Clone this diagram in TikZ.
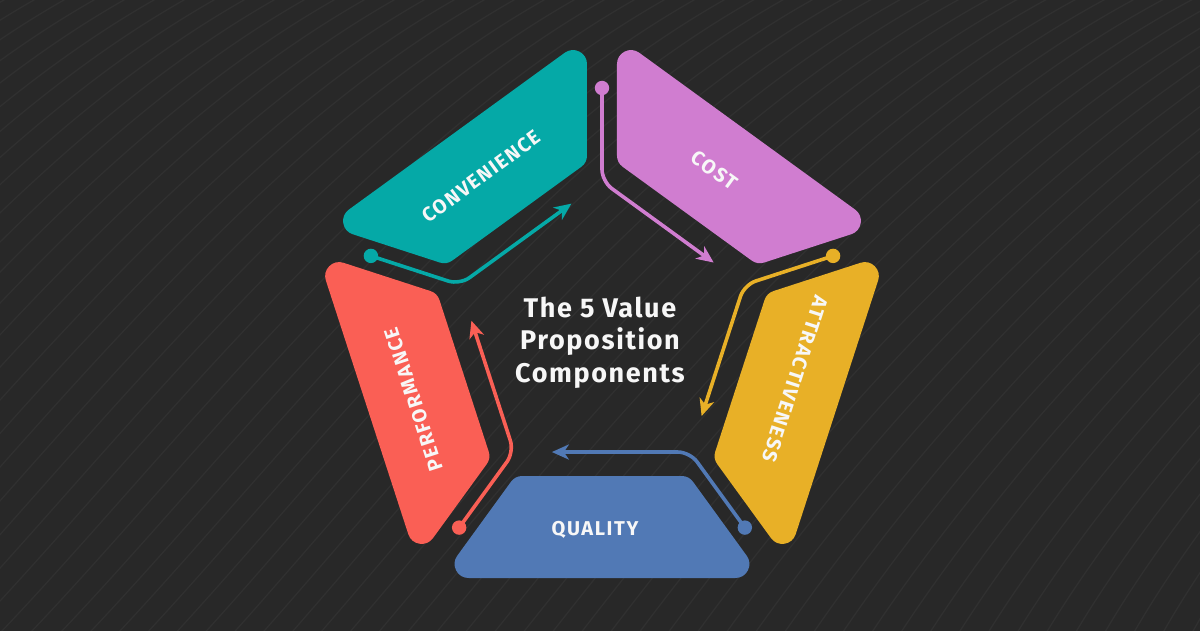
\documentclass[tikz,border=0pt]{standalone}
\usepackage{fontspec}
\setmainfont{Open Sans}
\newfontfamily\titlefont[LetterSpace=6]{Fira Sans}
\newfontfamily\labelfont[LetterSpace=8]{Fira Sans}
\usetikzlibrary{arrows.meta,calc}
\definecolor{bg}{HTML}{282828}
\definecolor{bgln}{HTML}{303030}
\definecolor{cconv}{HTML}{05A9A7}
\definecolor{ccost}{HTML}{D07DD0}
\definecolor{cattr}{HTML}{E8B027}
\definecolor{cqual}{HTML}{5179B5}
\definecolor{cperf}{HTML}{FA5F55}
\definecolor{txt}{HTML}{F7F7F7}
\tikzset{
  bgline/.style={draw=bgln, line width=1.3pt},
  blade/.style={fill=#1, draw=#1, line width=28pt, line join=round},
  conn/.style={draw=#1, line width=3.6pt, rounded corners=12pt, -{Stealth[length=17pt,width=15pt,inset=5pt]}},
  lbl/.style={text=txt, font=\labelfont\bfseries\fontsize{20}{22}\selectfont, inner sep=0pt},
  ttl/.style={text=txt, font=\titlefont\bfseries\fontsize{27}{32}\selectfont, inner sep=0pt, anchor=base}
}
\begin{document}
\begin{tikzpicture}[x=1pt,y=1pt]
\useasboundingbox (-602,-299) rectangle (598,331);
\fill[bg] (-610,-310) rectangle (610,340);
% background contour lines
\begin{scope}
\clip (-610,-310) rectangle (610,340);
\begin{scope}[shift={(-602,331)},yscale=-1]
\foreach \k in {0,...,75} {
  \pgfmathsetmacro{\xs}{-1000+30*\k}
  \pgfmathsetmacro{\ph}{40+30*max(0,min(1,\xs/1200))}
  \draw[bgline] (\xs,700) .. controls ({\xs+260*cos(\ph)},{700-260*sin(\ph)}) and ({\xs+600},-80) .. ({\xs+1000},-80);
}
\end{scope}
\end{scope}
% blades (rounded by stroke)
\pgfmathsetmacro{\rr}{14}
\pgfmathsetmacro{\yo}{-247+\rr}
\pgfmathsetmacro{\yi}{-145-\rr}
\pgfmathsetmacro{\xo}{(15+\rr+0.587785*\yo)/0.809017}
\pgfmathsetmacro{\xi}{(15+\rr+0.587785*\yi)/0.809017}
\foreach \a/\c in {270/cqual,-18/cattr,54/ccost,126/cconv,198/cperf} {
  \path[blade=\c, rotate=\a+90] (\xo,\yo) -- ({-\xo},\yo) -- ({-\xi},\yi) -- (\xi,\yi) -- cycle;
}
% connectors
\foreach \a/\c/\n in {270/cqual/q,-18/cattr/a,54/ccost/c,126/cconv/v,198/cperf/p} {
  \coordinate (s\n) at (\a+36:243);
  \coordinate (b\n) at (\a+36:149.6);
  \coordinate (e\n) at (\a-22.5:131);
  \draw[conn=\c] (s\n) -- (b\n) -- (e\n);
  \fill[\c] (s\n) circle (7.2);
}
% labels
\node[lbl, rotate=0] (lq) at (268:199) {QUALITY};
\node[lbl, rotate=-108] (la) at (-14:199) {ATTRACTIVENESS};
\node[lbl, rotate=-36] (lc) at (55:196) {COST};
\node[lbl, rotate=36] (lv) at (128:196) {CONVENIENCE};
\node[lbl, rotate=108] (lp) at (200:200) {PERFORMANCE};
% title
\node[ttl] (t1) at (-2,14) {The 5 Value};
\node[ttl] (t2) at (-2,-18) {Proposition};
\node[ttl] (t3) at (-2,-51) {Components};
\end{tikzpicture}
\end{document}
